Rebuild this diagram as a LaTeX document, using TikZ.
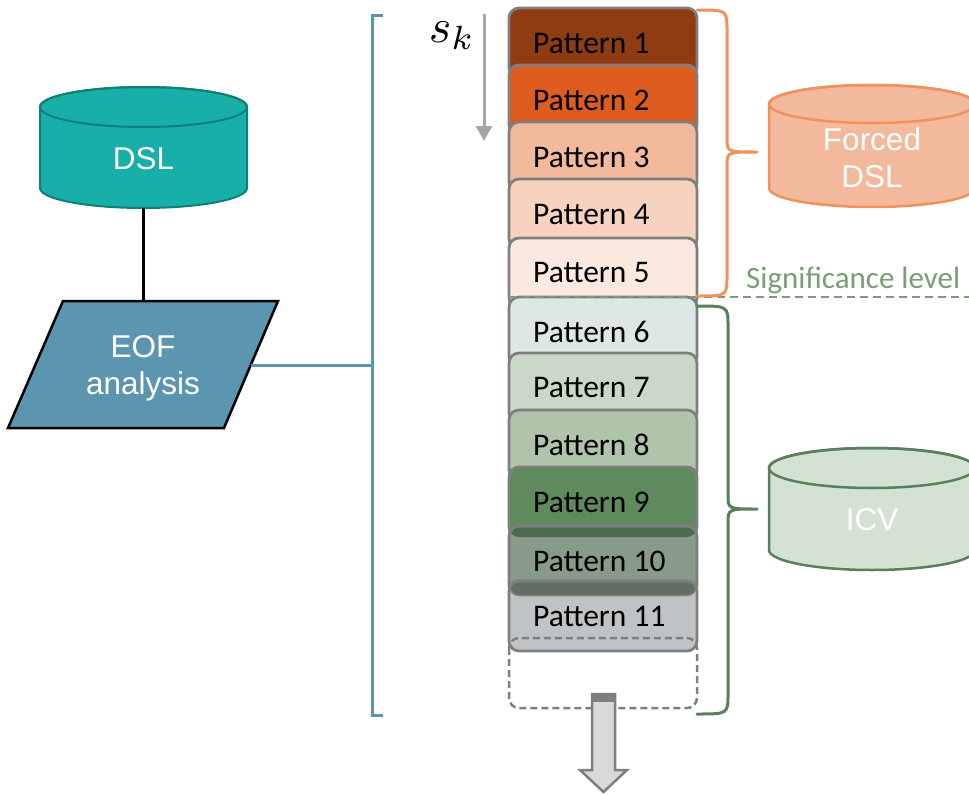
\documentclass[tikz,border=0pt]{standalone}
\usepackage{fontspec}
\usetikzlibrary{arrows.meta}
\setmainfont{Carlito}
\newfontfamily\arialf{Liberation Sans}
\definecolor{dslfill}{HTML}{17AFA8}
\definecolor{dsldraw}{HTML}{0F7F7A}
\definecolor{eofblue}{HTML}{5B95B0}
\definecolor{boxgray}{HTML}{7F7F7F}
\definecolor{arrgray}{HTML}{A6A6A6}
\definecolor{shaftgray}{HTML}{D9D9D9}
\definecolor{orline}{HTML}{F0915E}
\definecolor{orfill}{HTML}{F2B99C}
\definecolor{grline}{HTML}{5B7F5B}
\definecolor{grfill}{HTML}{D3E2D2}
\definecolor{sigcol}{HTML}{7C9C78}
\definecolor{pa}{HTML}{903C12}
\definecolor{pb}{HTML}{DD5C1E}
\definecolor{pc}{HTML}{F2B99C}
\definecolor{pd}{HTML}{F7D2BF}
\definecolor{pe}{HTML}{FBE8DE}
\definecolor{pf}{HTML}{DDE7E6}
\definecolor{pg}{HTML}{CAD8C8}
\definecolor{ph}{HTML}{AFC4AB}
\definecolor{pi}{HTML}{5E8A5E}
\definecolor{pj}{HTML}{889A88}
\definecolor{pk}{HTML}{C0C3C6}
\definecolor{bandj}{HTML}{4E6B50}
\definecolor{bandk}{HTML}{5F6F63}
\newcommand\drawcyl[6]{%
 \path[#6] (#1-#2,#3) -- (#1-#2,#4) arc[start angle=180,end angle=0,x radius=#2,y radius=#5] -- (#1+#2,#3) arc[start angle=0,end angle=-180,x radius=#2,y radius=#5] -- cycle;
 \path[#6, fill=none] (#1,#3) ellipse[x radius=#2, y radius=#5];}
\tikzset{
 patbox/.style={draw=boxgray, line width=2.8pt, rounded corners=10pt},
 pattxt/.style={font=\fontsize{31.5}{31.5}\selectfont, anchor=west, inner sep=0pt},
 cyltxt/.style={font=\arialf\fontsize{31.5}{37}\selectfont, text=white, align=center, inner sep=0pt},
 bracestyle/.style={line width=3pt, line join=round, line cap=round},
}
\begin{document}
\begin{tikzpicture}[x=1pt,y=-1pt]
\useasboundingbox (0,0) rectangle (969,795);
\clip (0,0) rectangle (969,795);
% DSL cylinder
\drawcyl{143.5}{103.5}{107}{188}{20}{fill=dslfill, draw=dsldraw, line width=2pt}
\node[cyltxt] (dsl) at (143.5,158.5) {DSL};
\coordinate (dslB) at (143,208);
% EOF parallelogram
\path[fill=eofblue, draw=black, line width=2.5pt] (63,301) -- (278,301) -- (224,428) -- (8,428) -- cycle;
\node[cyltxt] (eof) at (143,368) {EOF\\analysis};
\coordinate (eofT) at (143,301);
\coordinate (eofR) at (251,365);
\draw[line width=3pt, black] (dslB) -- (eofT);
% blue bracket
\coordinate (brk) at (372,365);
\draw[eofblue, line width=3pt] (eofR) -- (brk);
\draw[eofblue, line width=3pt] (383,15) -- (372,15) -- (372,715) -- (383,715);
% s_k arrow
\node[inner sep=0pt, scale=4.8] (sk) at (452,36) {$s_k$};
\coordinate (skA) at (484,14);
\coordinate (skB) at (484,141);
\draw[arrgray, line width=3pt, -{Triangle[length=15pt,width=16pt]}] (skA) -- (skB);
% patterns
\foreach \i/\t/\c in {1/8/pa,2/65/pb,3/122/pc,4/179/pd,5/238/pe,6/297/pf,7/353/pg,8/410/ph,9/467/pi,10/526/pj,11/581/pk}{
  \path[patbox, fill=\c] (509,\t) rectangle (697,\t+70);
}
% overlap bands
\begin{scope}
 \clip[rounded corners=10pt] (509,467) rectangle (697,537);
 \path[patbox, fill=bandj] (509,526) rectangle (697,596);
\end{scope}
\begin{scope}
 \clip[rounded corners=10pt] (509,526) rectangle (697,596);
 \path[patbox, fill=bandk] (509,581) rectangle (697,651);
 \path[patbox] (509,526) rectangle (697,596);
\end{scope}
\foreach \i/\t in {1/8,2/65,3/122,4/179,5/238,6/297,7/353,8/410,9/467,10/526,11/581}{
  \node[pattxt] (pat\i) at (533,\t+35) {Pattern \i};
}
% dashed box
\draw[boxgray, line width=2.5pt, dash pattern=on 7pt off 4pt, rounded corners=10pt] (509,638) rectangle (697,708);
% down arrow
\path[fill=shaftgray, draw=boxgray, line width=2.5pt, line join=miter] (592,694) -- (615,694) -- (615,770) -- (627,770) -- (603.5,792) -- (580,770) -- (592,770) -- cycle;
\fill[boxgray] (591,693) rectangle (616,702);
% significance
\draw[sigcol, line width=2pt, dash pattern=on 8pt off 5pt] (509,297) -- (969,297);
\node[font=\fontsize{31}{31}\selectfont, text=sigcol, anchor=base west, inner sep=0pt] (sig) at (746,288) {Significance level};
% orange brace
\draw[orline, bracestyle] (697,10) .. controls (727,10) .. (727,30) -- (727,138) .. controls (727,152) .. (757,152) .. controls (727,152) .. (727,166) -- (727,276) .. controls (727,296) .. (697,296);
% green brace
\draw[grline, bracestyle] (697,306) .. controls (728,306) .. (728,326) -- (728,495) .. controls (728,509) .. (757,509) .. controls (728,509) .. (728,523) -- (728,694) .. controls (728,714) .. (697,714);
% Forced DSL cylinder
\drawcyl{872}{103}{104}{188}{19}{fill=orfill, draw=orline, line width=2.5pt}
\node[cyltxt] (forced) at (872,157.5) {Forced\\DSL};
% ICV cylinder
\drawcyl{872}{103}{468}{550}{20}{fill=grfill, draw=grline, line width=2.5pt}
\node[cyltxt] (icv) at (872,520) {ICV};
\end{tikzpicture}
\end{document}
